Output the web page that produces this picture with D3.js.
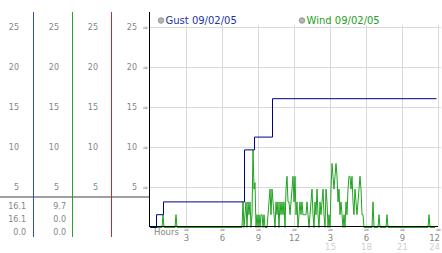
<!DOCTYPE html>
<html><head><meta charset="utf-8">
<script src="https://cdn.jsdelivr.net/npm/d3@7"></script>
<style>html,body{margin:0;padding:0;background:#fff;overflow:hidden}</style>
</head><body><svg id="c" width="442" height="253"></svg>
<script>
// ---- data ----
const yTickValues = [5, 10, 15, 20, 25];
const xTickHours = [3, 6, 9, 12, 15, 18, 21, 24];
const xLabels12 = ["3", "6", "9", "12", "3", "6", "9", "12"];
const xLabels24 = ["", "", "", "", "15", "18", "21", "24"];
const seriesNames = ["Gust 09/02/05", "Wind 09/02/05"];
const gustStats = ["16.1", "16.1", "0.0"];
const windStats = ["9.7", "0.0", "0.0"];
const gustHours = [0, 0.5, 1.08, 7.8, 8.65, 10.17, 23.8];
const gustValues = [0, 1.6, 3.2, 9.7, 11.3, 16.1, 16.1];
const windStepHours = 1 / 12; // 5-minute samples
const windValues = [
  0,0,0,0,0,0,0,0,0,0,0,0,                 // 0h
  0,1.6,0,0,0,0,0,0,0,0,0,0,               // 1h
  0,0,1.6,0,0,0,0,0,0,0,0,0,               // 2h
  0,0,0,0,0,0,0,0,0,0,0,0,                 // 3h
  0,0,0,0,0,0,0,0,0,0,0,0,                 // 4h
  0,0,0,0,0,0,0,0,0,0,0,0,                 // 5h
  0,0,0,0,0,0,0,0,0,0,0,0,                 // 6h
  0,0,0,0,0,0,0,0,0,3.2,0,1.6,             // 7h
  3.2,0,3.2,1.6,3.2,0,1.6,9.7,4.8,5.6,0,1.6, // 8h
  0,1.6,0,1.6,1.6,0,1.6,0,0,0,1.6,3.2,     // 9h
  4.8,1.6,4.8,3.2,1.6,0,3.2,1.6,3.2,0,3.2,1.6, // 10h
  3.2,1.6,3.2,0,4.8,6.4,3.2,3.2,1.6,3.2,4.8,6.4, // 11h
  3.2,6.4,1.6,3.2,0,1.6,3.2,1.6,3.2,1.6,1.6,1.6, // 12h
  1.6,3.2,1.6,0,1.6,3.2,4.8,1.6,0,3.2,1.6,4.8, // 13h
  1.6,0,3.2,1.6,3.2,4.8,1.6,0,4.8,3.2,0,1.6,   // 14h
  0,4.8,8.0,6.4,4.8,6.4,8.0,6.4,3.2,4.8,1.6,3.2, // 15h
  1.6,0,1.6,0,3.2,1.6,4.8,6.4,6.4,4.8,6.4,3.2,   // 16h
  1.6,4.8,3.2,1.6,3.2,4.8,6.4,4.8,1.6,1.6,0,0,   // 17h
  0,0,0,0,0,0,0,3.2,0,0,0,0,               // 18h
  0,1.6,0,0,0,0,0,0,0,1.6,0,0,             // 19h
  0,0,0,0,0,0,0,0,0,0,0,0,                 // 20h
  0,0,0,0,0,0,0,0,0,0,0,0,                 // 21h
  0,0,0,0,0,0,0,0,0,0,0,0,                 // 22h
  0,0,0,1.6,0,0,0,0,0,0                    // 23h
];

// ---- chart ----
const svg = d3.select("#c");
const FONT = "DejaVu Sans, Verdana, sans-serif";
const x = d3.scaleLinear().domain([0, 24]).range([150, 438]);
const y = d3.scaleLinear().domain([0, 25]).range([227.5, 27.5]);
const px = v => Math.round(v) + 0.5;
const lastTick = xTickHours[xTickHours.length - 1];

// gridlines
const grid = svg.append("g").attr("stroke", "#d9d9d9").attr("stroke-width", 1);
grid.selectAll("line.h").data(yTickValues).join("line")
  .attr("x1", 150).attr("x2", 441).attr("y1", d => px(y(d)) - 1).attr("y2", d => px(y(d)) - 1);
grid.selectAll("line.v").data(xTickHours).join("line")
  .attr("x1", d => px(x(d))).attr("x2", d => px(x(d))).attr("y1", 25).attr("y2", 226);

// left panel
const colLines = [33.5, 72.5, 111.5];
const colColors = ["#3050b8", "#2ea02e", "#b83030"];
const labelRight = [19, 59, 98, 137];
svg.append("line").attr("x1", 0).attr("x2", 149).attr("y1", 197).attr("y2", 197)
  .attr("stroke", "#a0a0a0").attr("stroke-width", 2);
svg.selectAll("line.col").data(colLines).join("line")
  .attr("x1", d => d).attr("x2", d => d).attr("y1", 12).attr("y2", 237)
  .attr("stroke", (d, i) => colColors[i]).attr("stroke-width", 1);
labelRight.forEach(r => {
  svg.append("g").selectAll("text").data(yTickValues).join("text")
    .attr("x", r).attr("y", d => Math.round(y(d)) + 2)
    .attr("text-anchor", "end").attr("font-family", FONT).attr("font-size", 8)
    .attr("fill", "#858585").text(d => d);
});
// y tick marks
svg.append("g").selectAll("text").data(yTickValues).join("text")
  .attr("x", 145.5).attr("y", d => Math.round(y(d)) + 1.5)
  .attr("text-anchor", "middle").attr("font-family", FONT).attr("font-size", 7)
  .attr("fill", "#9a9a9a").text("≈");
const statBase = [208.5, 221.5, 235];
[[gustStats, 26], [windStats, 66]].forEach(([arr, r]) => {
  svg.append("g").selectAll("text").data(arr).join("text")
    .attr("x", r).attr("y", (d, i) => statBase[i])
    .attr("text-anchor", "end").attr("font-family", FONT).attr("font-size", 8)
    .attr("fill", "#858585").text(d => d);
});

// series
const wind = windValues.map((v, i) => [i * windStepHours, v]);
svg.append("path").datum(wind)
  .attr("d", d3.line().x(d => x(d[0])).y(d => y(d[1])))
  .attr("fill", "none").attr("stroke", "#1fa31f").attr("stroke-width", 1);
const gust = gustHours.map((h, i) => [h, gustValues[i]]);
svg.append("path").datum(gust)
  .attr("d", d3.line().curve(d3.curveStepAfter).x(d => px(x(d[0]))).y(d => y(d[1])))
  .attr("fill", "none").attr("stroke", "#000080").attr("stroke-width", 1);

// axes lines
svg.append("line").attr("x1", 149.5).attr("x2", 149.5).attr("y1", 12).attr("y2", 227)
  .attr("stroke", "#000").attr("stroke-width", 1);
svg.append("line").attr("x1", 150).attr("x2", 438).attr("y1", 226.5).attr("y2", 226.5)
  .attr("stroke", "#000").attr("stroke-width", 1);

// x labels
svg.append("text").attr("x", 154).attr("y", 234.5).attr("font-family", FONT)
  .attr("font-size", 8.5).attr("fill", "#858585").text("Hours");
svg.append("g").selectAll("text").data(xTickHours).join("text")
  .attr("x", d => x(d) + 0.5).attr("y", 232)
  .attr("text-anchor", "middle").attr("font-family", FONT).attr("font-size", 7)
  .attr("fill", "#9a9a9a").text("≈");
const tickX = d => d === lastTick ? 440 : x(d) + 0.5;
const tickAnchor = d => d === lastTick ? "end" : "middle";
svg.append("g").selectAll("text").data(xTickHours).join("text")
  .attr("x", tickX).attr("y", 240.5)
  .attr("text-anchor", tickAnchor).attr("font-family", FONT).attr("font-size", 8.5)
  .attr("fill", "#858585").text((d, i) => xLabels12[i]);
svg.append("g").selectAll("text").data(xTickHours).join("text")
  .attr("x", tickX).attr("y", 249.5)
  .attr("text-anchor", tickAnchor).attr("font-family", FONT).attr("font-size", 8.5)
  .attr("fill", "#cfcfcf").text((d, i) => xLabels24[i]);

// legend
const legendX = [161, 302];
const legendColors = ["#2233aa", "#22a022"];
seriesNames.forEach((n, i) => {
  svg.append("circle").attr("cx", legendX[i]).attr("cy", 20.5).attr("r", 2.8)
    .attr("fill", "#b4b4b4").attr("stroke", "#8c8c8c").attr("stroke-width", 0.8);
  svg.append("text").attr("x", legendX[i] + 4.5).attr("y", 24.3)
    .attr("font-family", FONT).attr("font-size", 10).attr("fill", legendColors[i]).text(n);
});
</script>
</body></html>
